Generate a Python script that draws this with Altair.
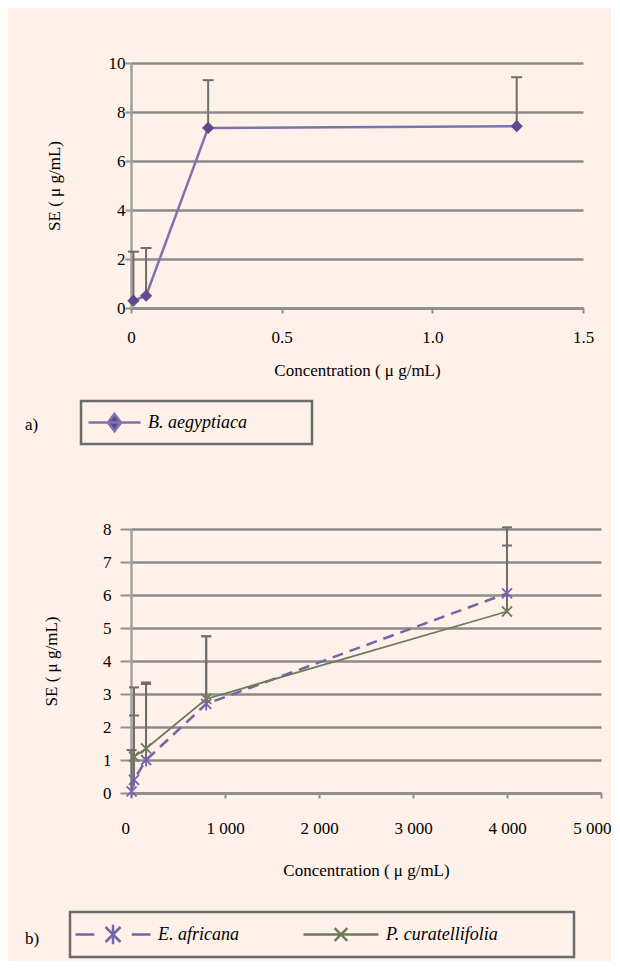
import altair as alt
import pandas as pd

FONT = "'Liberation Serif', 'Times New Roman', serif"

# ---------------- panel a data ----------------
series_a = ["B. aegyptiaca"]
conc_a = [0.008, 0.05, 0.256, 1.28]
se_a = [0.3, 0.5, 7.35, 7.42]
upper_a = [2.3, 2.45, 9.3, 9.42]
x_ticks_a = [0, 0.5, 1.0, 1.5]
y_ticks_a = [0, 2, 4, 6, 8, 10]

# ---------------- panel b data ----------------
series_b = ["E. africana", "P. curatellifolia"]
conc_ea = [6.4, 32, 160, 800, 4000]
se_ea = [0.05, 0.4, 1.0, 2.7, 6.05]
upper_ea = [1.3, 2.35, 3.3, 4.75, 8.05]
conc_pc = [32, 160, 800, 4000]
se_pc = [1.1, 1.35, 2.85, 5.5]
upper_pc = [3.2, 3.35, 4.75, 7.5]
x_ticks_b = [0, 1000, 2000, 3000, 4000, 5000]
y_ticks_b = [0, 1, 2, 3, 4, 5, 6, 7, 8]

x_title = "Concentration ( μ g/mL)"
y_title = "SE ( μ g/mL)"

df_a = pd.DataFrame({"conc": conc_a, "se": se_a, "upper": upper_a,
                     "series": series_a[0]})
df_b = pd.concat([
    pd.DataFrame({"conc": conc_ea, "se": se_ea, "upper": upper_ea, "series": series_b[0]}),
    pd.DataFrame({"conc": conc_pc, "se": se_pc, "upper": upper_pc, "series": series_b[1]}),
], ignore_index=True)

# ---------------- styles ----------------
PURPLE_LINE = "#8070ad"
PURPLE_MARK = "#5d4b8c"
PURPLE_B = "#7564a6"
OLIVE = "#6f7a5b"
ERR = "#6e6e6e"
GRID = "#808080"
AXIS = "#909090"

PATH_A = "M-1,0H1M0,-0.33L0.25,0L0,0.33L-0.25,0Z"
PATH_EA = ("M-1,0H-0.5M0.5,0H1M-0.2,-0.2L0.2,0.2M-0.2,0.2L0.2,-0.2"
           "M0,-0.26L0,0.26")
PATH_PC = "M-1,0H1M-0.17,-0.17L0.17,0.17M-0.17,0.17L0.17,-0.17"
STAR = "M-1,-1L1,1M-1,1L1,-1M0,-1.3L0,1.3"
CROSS = "M-1,-1L1,1M-1,1L1,-1"


def pad(n):
    # trailing blank run (kept by a final zero-width char) widens the legend box
    return "\u00a0" * n + "\u200b"


def x_axis(values, expr, label_pad, title_pad, flush):
    extra = {"labelFlush": True, "labelFlushOffset": 10} if flush else {"labelFlush": False}
    return alt.Axis(
        values=values, title=x_title, labelExpr=expr, grid=False,
        tickSize=5, tickWidth=2, tickColor=AXIS,
        domainColor=AXIS, domainWidth=3,
        labelPadding=label_pad, titlePadding=title_pad,
        labelFont=FONT, labelFontSize=17, labelColor="black",
        labelOverlap=False,
        titleFont=FONT, titleFontSize=17, titleFontWeight="normal",
        titleColor="black", **extra,
    )


def y_axis(values, tick, label_pad, title_x):
    return alt.Axis(
        values=values, title=y_title, grid=True,
        gridColor=GRID, gridWidth=2.5, gridOpacity=0.9,
        tickSize=tick, tickWidth=2, tickColor=AXIS,
        domainColor="#a0a0a0", domainWidth=2.5,
        labelPadding=label_pad, labelOverlap=False,
        labelFont=FONT, labelFontSize=17, labelColor="black",
        titleFont=FONT, titleFontSize=17, titleFontWeight="normal",
        titleColor="black", titleX=title_x,
    )


def legend(lx, ly, pd_, clip, size, colpad, expr):
    return alt.Legend(
        title=None, orient="none", legendX=lx, legendY=ly,
        direction="horizontal", columns=2, columnPadding=colpad,
        padding=pd_, clipHeight=clip, symbolSize=size,
        symbolStrokeWidth=2.5, symbolOpacity=1,
        labelFont=FONT, labelFontSize=18, labelFontStyle="italic",
        labelColor="black", labelOffset=6, labelExpr=expr, labelLimit=500,
        strokeColor="#6b6b6b",
    )


# ---------------- panel a ----------------
xsa = alt.Scale(domain=[0, 1.5], nice=False, zero=True)
ysa = alt.Scale(domain=[0, 10], nice=False, zero=True)
xax_a = x_axis(x_ticks_a, "datum.value == 0 ? '0' : format(datum.value, '.1f')", 16, 17, False)
yax_a = y_axis(y_ticks_a, 6, 0, -68)
xa = alt.X("conc:Q", scale=xsa, axis=xax_a)
ya = alt.Y("se:Q", scale=ysa, axis=yax_a)
yca = alt.Y("upper:Q", scale=ysa, axis=yax_a)

base_a = alt.Chart(df_a)
err_a = base_a.mark_rule(color=ERR, strokeWidth=2).encode(x=xa, y=ya, y2="upper:Q")
cap_a = base_a.mark_tick(orient="horizontal", size=11, thickness=2, color=ERR,
                         opacity=1).encode(x=xa, y=yca)
line_a = base_a.mark_line(color=PURPLE_LINE, strokeWidth=2.5).encode(x=xa, y=ya)
pts_a = base_a.mark_point(shape="diamond", filled=True, size=150,
                          color=PURPLE_MARK, opacity=1).encode(x=xa, y=ya)

leg_a_def = legend(-50, 338, 6, 31, 2704, 40, "datum.label + '" + pad(13) + "'")
leg_a = base_a.transform_filter("false").mark_point(
    filled=True, size=2704, strokeWidth=2.5, opacity=1).encode(
    fill=alt.Fill("series:N", scale=alt.Scale(domain=series_a, range=[PURPLE_MARK]), legend=leg_a_def),
    stroke=alt.Stroke("series:N", scale=alt.Scale(domain=series_a, range=[PURPLE_LINE]), legend=leg_a_def),
    shape=alt.Shape("series:N", scale=alt.Scale(domain=series_a, range=[PATH_A]), legend=leg_a_def),
)

top = alt.layer(err_a, cap_a, line_a, pts_a, leg_a).properties(
    width=452, height=245,
    title=alt.TitleParams("a)", orient="bottom", anchor="start", frame="group",
                          dx=-106, dy=-28, offset=0, font=FONT, fontSize=17,
                          fontWeight="normal", color="black"),
)

# ---------------- panel b ----------------
xsb = alt.Scale(domain=[0, 5000], nice=False, zero=True)
ysb = alt.Scale(domain=[0, 8], nice=False, zero=True)
xax_b = x_axis(x_ticks_b, "replace(format(datum.value, ','), ',', ' ')", 22, 26, True)
yax_b = y_axis(y_ticks_b, 11, 9, -71)
xb = alt.X("conc:Q", scale=xsb, axis=xax_b)
yb = alt.Y("se:Q", scale=ysb, axis=yax_b)
ycb = alt.Y("upper:Q", scale=ysb, axis=yax_b)

base_b = alt.Chart(df_b)
err_b = base_b.mark_rule(color=ERR, strokeWidth=2).encode(x=xb, y=yb, y2="upper:Q")
cap_b = base_b.mark_tick(orient="horizontal", size=10, thickness=2, color=ERR,
                         opacity=1).encode(x=xb, y=ycb)
ea = base_b.transform_filter(alt.datum.series == series_b[0])
pc = base_b.transform_filter(alt.datum.series == series_b[1])
line_ea = ea.mark_line(color=PURPLE_B, strokeWidth=2.5, strokeDash=[11, 7]).encode(x=xb, y=yb)
line_pc = pc.mark_line(color=OLIVE, strokeWidth=1.8).encode(x=xb, y=yb)
pts_ea = ea.mark_point(shape=STAR, filled=False, size=100, strokeWidth=1.8,
                       color=PURPLE_B, opacity=1).encode(x=xb, y=yb)
pts_pc = pc.mark_point(shape=CROSS, filled=False, size=100, strokeWidth=1.8,
                       color=OLIVE, opacity=1).encode(x=xb, y=yb)

leg_b_def = legend(-61, 383, 4, 37, 5625, 63,
                   "datum.label == 'P. curatellifolia' ? datum.label + '" + pad(16) + "' : datum.label")
leg_b = base_b.transform_filter("false").mark_point(
    filled=True, size=5625, strokeWidth=2.5, opacity=1).encode(
    fill=alt.Fill("series:N", scale=alt.Scale(domain=series_b, range=[PURPLE_B, OLIVE]), legend=leg_b_def),
    stroke=alt.Stroke("series:N", scale=alt.Scale(domain=series_b, range=[PURPLE_B, OLIVE]), legend=leg_b_def),
    shape=alt.Shape("series:N", scale=alt.Scale(domain=series_b, range=[PATH_EA, PATH_PC]), legend=leg_b_def),
)

bottom = alt.layer(err_b, cap_b, line_ea, line_pc, pts_ea, pts_pc, leg_b).properties(
    width=470, height=264,
    title=alt.TitleParams("b)", orient="bottom", anchor="start", frame="group",
                          dx=-106, dy=-27, offset=0, font=FONT, fontSize=17,
                          fontWeight="normal", color="black"),
)

chart = alt.concat(top, bottom, columns=1, spacing=74).resolve_scale(
    x="independent", y="independent", fill="independent",
    stroke="independent", shape="independent",
).properties(
    background="#fdf1ea",
    padding={"left": 17, "top": 46, "right": 0, "bottom": 2},
).configure_view(stroke=None).configure_legend(strokeWidth=2.5)

chart.save("out.html", embed_options={"renderer": "svg", "actions": False})
